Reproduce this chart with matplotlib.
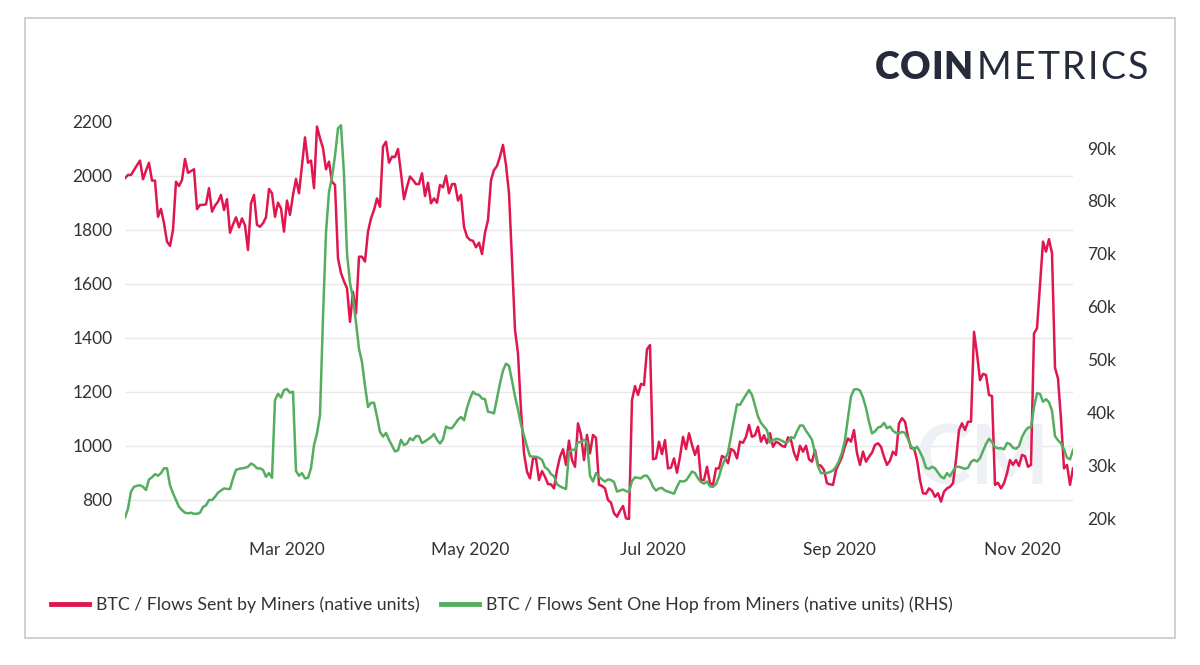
import pandas as pd
import matplotlib.pyplot as plt
from matplotlib.lines import Line2D
from matplotlib.patches import Rectangle
from matplotlib.ticker import FuncFormatter

# =========================
# DATA (daily, from 2020-01-07)
# =========================

start_date = "2020-01-07"

flows_miners = [
    1992, 2004, 2004, 2022, 2040, 2057, 1988, 2020, 2049, 1983,
    1983, 1849, 1878, 1825, 1757, 1741, 1800, 1979, 1963, 1985,
    2063, 2012, 2018, 2025, 1877, 1893, 1893, 1895, 1955, 1868,
    1890, 1905, 1930, 1874, 1914, 1790, 1820, 1847, 1810, 1843,
    1817, 1726, 1899, 1930, 1819, 1812, 1825, 1847, 1952, 1936,
    1849, 1901, 1880, 1794, 1909, 1856, 1930, 1989, 1936, 2040,
    2143, 2049, 2057, 1955, 2183, 2140, 2103, 2025, 2053, 1979,
    1967, 1695, 1640, 1610, 1584, 1460, 1571, 1491, 1701, 1701,
    1683, 1794, 1843, 1874, 1917, 1886, 2109, 2127, 2049, 2072,
    2070, 2100, 2010, 1914, 1960, 1998, 1985, 1970, 1970, 2010,
    1926, 1975, 1899, 1917, 1901, 1967, 1958, 2001, 1936, 1970,
    1970, 1909, 1930, 1812, 1775, 1763, 1760, 1736, 1753, 1711,
    1790, 1837, 1985, 2022, 2037, 2072, 2115, 2041, 1936, 1689,
    1430, 1343, 1133, 973, 905, 880, 954, 954, 874, 907,
    886, 859, 858, 843, 911, 960, 988, 930, 1020, 948,
    923, 1084, 1041, 948, 1041, 973, 1041, 1030, 856, 852,
    843, 800, 790, 751, 738, 760, 778, 732, 730, 1170,
    1222, 1189, 1230, 1226, 1358, 1374, 951, 954, 1016, 970,
    1022, 917, 920, 954, 901, 960, 1034, 989, 1047, 1004,
    967, 1000, 874, 874, 923, 862, 856, 917, 917, 963,
    956, 936, 989, 982, 954, 1016, 1012, 1034, 1078, 1034,
    1040, 1071, 1016, 1040, 1010, 1047, 997, 1016, 1010, 1000,
    997, 1032, 1022, 975, 948, 1001, 979, 1001, 951, 942,
    985, 930, 927, 911, 862, 858, 856, 911, 935, 960,
    1000, 1028, 1016, 1059, 973, 930, 979, 942, 960, 975,
    1004, 1010, 997, 960, 930, 946, 979, 967, 1084, 1103,
    1090, 1034, 992, 992, 948, 874, 825, 823, 843, 834,
    812, 825, 794, 831, 843, 849, 862, 948, 1059, 1084,
    1059, 1090, 1090, 1423, 1343, 1244, 1267, 1263, 1189, 1185,
    856, 864, 843, 862, 899, 948, 930, 948, 926, 967,
    962, 923, 930, 1417, 1436, 1596, 1757, 1720, 1766, 1714,
    1290, 1250, 1100, 917, 930, 856, 917,
]

# thousands of BTC
flows_one_hop_k = [
    20.1, 21.8, 25.0, 25.9, 26.1, 26.2, 25.9, 25.3, 27.3, 27.7,
    28.3, 28.0, 28.5, 29.4, 29.4, 26.2, 24.7, 23.4, 22.1, 21.5,
    21.0, 20.9, 21.0, 20.8, 20.8, 21.0, 22.1, 22.4, 23.4, 23.4,
    24.0, 24.8, 25.2, 25.6, 25.5, 25.5, 27.5, 29.1, 29.3, 29.4,
    29.5, 29.7, 30.3, 30.0, 29.4, 29.4, 29.1, 27.8, 28.5, 27.6,
    42.3, 43.5, 42.8, 44.2, 44.4, 43.7, 43.9, 28.9, 28.0, 28.5,
    27.5, 27.6, 29.4, 33.8, 36.0, 39.5, 58.0, 74.0, 81.7, 84.5,
    88.5, 93.7, 94.3, 85.0, 70.0, 64.5, 61.5, 57.0, 52.0, 49.5,
    45.0, 41.0, 41.8, 41.8, 39.2, 36.3, 35.4, 36.1, 34.8, 33.7,
    32.6, 32.8, 34.8, 33.8, 34.1, 35.1, 34.7, 35.5, 35.5, 34.2,
    34.5, 34.9, 35.3, 35.9, 34.8, 34.1, 34.9, 37.3, 37.0, 37.0,
    37.8, 38.6, 39.1, 38.5, 40.8, 42.6, 43.9, 43.4, 43.3, 42.6,
    42.5, 40.1, 40.0, 39.8, 42.6, 45.5, 47.9, 49.2, 48.8, 46.0,
    43.0, 40.5, 37.7, 35.6, 33.5, 31.7, 31.6, 31.6, 31.4, 31.0,
    29.6, 29.2, 28.3, 27.9, 26.4, 26.0, 25.7, 25.5, 32.5, 32.9,
    32.9, 34.4, 34.3, 34.8, 34.4, 28.0, 26.9, 28.5, 27.8, 27.3,
    26.9, 27.3, 27.2, 26.8, 25.0, 25.2, 25.4, 25.1, 24.9, 27.0,
    27.7, 27.6, 27.5, 28.0, 28.0, 27.2, 25.9, 25.2, 25.6, 25.7,
    25.2, 25.0, 24.8, 24.6, 25.9, 27.0, 26.9, 27.1, 27.9, 28.8,
    28.5, 27.5, 26.8, 26.5, 26.9, 26.0, 25.9, 26.4, 27.8, 29.8,
    31.1, 32.4, 35.5, 38.6, 41.5, 41.4, 42.4, 43.3, 44.2, 43.3,
    41.3, 39.2, 38.0, 37.3, 36.6, 34.3, 34.7, 35.0, 34.9, 34.6,
    34.3, 34.4, 35.3, 35.1, 36.4, 37.5, 37.5, 36.5, 35.7, 34.8,
    32.3, 29.8, 28.5, 28.5, 28.5, 28.7, 29.0, 29.7, 30.8, 32.4,
    34.8, 39.0, 43.0, 44.3, 44.4, 44.1, 42.8, 40.8, 38.2, 36.0,
    36.4, 37.1, 37.3, 38.0, 37.0, 37.3, 36.5, 36.1, 36.0, 36.3,
    36.1, 34.9, 33.6, 32.9, 33.5, 32.5, 31.3, 29.5, 29.3, 29.7,
    29.4, 28.6, 27.8, 27.5, 28.5, 27.9, 28.9, 29.7, 29.7, 29.5,
    29.3, 29.5, 30.6, 31.0, 30.7, 31.3, 32.7, 34.0, 35.0, 34.4,
    33.4, 33.2, 33.2, 33.0, 34.2, 34.0, 33.3, 33.1, 33.6, 35.3,
    36.4, 37.1, 37.2, 41.0, 43.6, 43.5, 42.0, 42.5, 41.9, 40.3,
    35.5, 34.7, 34.1, 33.0, 31.4, 31.1, 32.9,
]

month_ticks = ["2020-03-01", "2020-05-01", "2020-07-01", "2020-09-01", "2020-11-01"]
month_labels = ["Mar 2020", "May 2020", "Jul 2020", "Sep 2020", "Nov 2020"]
left_ticks = [800, 1000, 1200, 1400, 1600, 1800, 2000, 2200]
right_ticks = [20, 30, 40, 50, 60, 70, 80, 90]

label_red = "BTC / Flows Sent by Miners (native units)"
label_green = "BTC / Flows Sent One Hop from Miners (native units) (RHS)"

RED = "#e0174f"
GREEN = "#55ad5f"
TXT = "#333333"
LOGO = "#262b3b"

dates = pd.date_range(start_date, periods=len(flows_miners), freq="D")

plt.rcParams["font.family"] = ["Lato", "DejaVu Sans"]

# =========================
# FIGURE
# =========================

W, H = 1200, 665
fig = plt.figure(figsize=(W / 100, H / 100), dpi=100)
fig.add_artist(Rectangle((25 / W, 1 - 638 / H), 1150 / W, 620 / H,
                         transform=fig.transFigure, fill=False,
                         edgecolor="#c8c8c8", linewidth=1.2))

ax = fig.add_axes([125 / W, 1 - 525 / H, (1073 - 125) / W, (525 - 122) / H])
ax2 = ax.twinx()

for g in left_ticks[:-1]:
    ax.axhline(g, color="#e8e8e8", linewidth=1, zorder=0)

# faint watermark
ax.text(0.905, 0.16, "CM", transform=ax.transAxes, fontsize=60,
        color="#edf0f5", ha="center", va="center", fontweight="bold", zorder=0)

ax.plot(dates, flows_miners, color=RED, linewidth=1.8, zorder=3)
ax2.plot(dates, flows_one_hop_k, color=GREEN, linewidth=1.8, zorder=3)

ax.set_xlim(dates[0], dates[-1])
ax.set_ylim(707.4, 2200)
ax2.set_ylim(18.68, 94.92)

ax.set_yticks(left_ticks)
ax2.set_yticks(right_ticks)
ax2.yaxis.set_major_formatter(FuncFormatter(lambda v, p: f"{v:.0f}k"))
ax.set_xticks(pd.to_datetime(month_ticks))
ax.set_xticklabels(month_labels)

for a in (ax, ax2):
    for s in a.spines.values():
        s.set_visible(False)
ax.tick_params(axis="y", length=0, pad=9, labelsize=12.5, labelcolor=TXT)
ax2.tick_params(axis="y", length=0, pad=10, labelsize=12.5, labelcolor=TXT)
ax.tick_params(axis="x", length=0, pad=12, labelsize=12.5, labelcolor=TXT)


# logo: letters spread to fill a given pixel span
def spaced_text(word, x0, x1, y, **kw):
    renderer = fig.canvas.get_renderer()
    parts, total = [], 0.0
    for ch in word:
        t = fig.text(0, 0, ch, **kw)
        w = t.get_window_extent(renderer).width
        t.remove()
        parts.append((ch, w))
        total += w
    gap = (x1 - x0 - total) / (len(word) - 1)
    x = x0
    for ch, w in parts:
        fig.text(x / W, 1 - y / H, ch, ha="left", va="baseline", **kw)
        x += w + gap


spaced_text("COIN", 875, 973, 79, fontsize=27, fontweight="heavy", color=LOGO)
spaced_text("METRICS", 977, 1148, 79, fontsize=27, fontweight="normal", color=LOGO)

handles = [Line2D([], [], color=RED, linewidth=3.5),
           Line2D([], [], color=GREEN, linewidth=3.5)]
fig.legend(handles, [label_red, label_green], loc="center left",
           bbox_to_anchor=(35 / W, 1 - 605 / H), ncol=2, frameon=False,
           fontsize=12.8, labelcolor=TXT, handlelength=2.15,
           handletextpad=0.4, columnspacing=1.15)

fig.savefig("out.png", dpi=100)
